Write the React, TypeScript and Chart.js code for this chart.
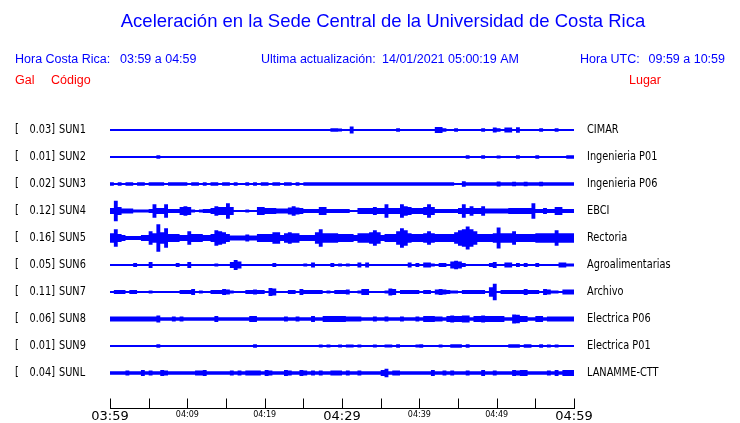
import React, { useEffect, useRef } from 'react';
import { Chart, registerables } from 'chart.js';

Chart.register(...registerables);

// ---------- text ----------
const TITLE = 'Aceleración en la Sede Central de la Universidad de Costa Rica';
const HEADER_CR = ['Hora Costa Rica:', '03:59 a 04:59'];
const HEADER_UPD = ['Ultima actualización:', '14/01/2021 05:00:19 AM'];
const HEADER_UTC = ['Hora UTC:', '09:59 a 10:59'];
const COL_HEADS = ['Gal', 'Código', 'Lugar'];

// ---------- stations ----------
const CODES = ['SUN1', 'SUN2', 'SUN3', 'SUN4', 'SUN5', 'SUN6', 'SUN7', 'SUN8', 'SUN9', 'SUNL'];
const PEAK_GAL = [0.03, 0.01, 0.02, 0.12, 0.16, 0.05, 0.11, 0.06, 0.01, 0.04];
const PLACES = ['CIMAR', 'Ingenieria P01', 'Ingenieria P06', 'EBCI', 'Rectoria', 'Agroalimentarias', 'Archivo', 'Electrica P06', 'Electrica P01', 'LANAMME-CTT'];

// ---------- time axis (minutes after 03:59) ----------
const BIN_MIN = 0.5;
const SPAN_MIN = 60;
const TICK_MIN = [0, 5, 10, 15, 20, 25, 30, 35, 40, 45, 50, 55, 60];
const LABEL_MIN = [0, 10, 20, 30, 40, 50, 60];
const LABEL_TEXT = ['03:59', '04:09', '04:19', '04:29', '04:39', '04:49', '04:59'];
const LABEL_MAJOR = [true, false, false, true, false, false, true];

// ---------- envelopes: half peak-to-peak acceleration per 30 s window, mGal ----------
const SUN1_MGAL = [
  0,0,0,0,0,0,0,0,0,0, 0,0,0,0,0,0,0,0,0,0,
  0,0,0,0,0,0,0,0,0,0, 0,0,0,0,0,0,0,0,0,0,
  0,0,0,0,0,0,0,0,0,0, 0,0,0,0,0,0,0,0,8,8,
  6,0,0,30,0,0,0,0,0,0, 0,0,0,0,0,10,0,0,0,0,
  0,0,0,0,0,25,25,10,0,0, 8,0,0,0,0,0,0,10,0,0,
  20,10,0,18,18,0,22,0,0,0, 0,0,10,0,0,0,10,0,0,0,
];
const SUN2_MGAL = [
  0,0,0,0,0,0,0,0,0,0, 0,0,0,8,0,0,0,0,0,0,
  0,0,0,0,0,0,0,0,0,0, 0,0,0,0,0,0,0,0,0,0,
  0,0,0,0,0,0,0,0,0,0, 0,0,0,0,0,0,0,0,0,0,
  0,0,0,0,0,0,0,0,0,0, 0,0,0,0,0,0,0,0,0,0,
  0,0,0,0,0,0,0,0,0,0, 0,0,0,10,0,0,0,8,0,0,
  0,6,0,0,0,0,8,0,0,0, 0,8,0,0,0,0,0,0,0,10,
];
const SUN3_MGAL = [
  10,10,0,10,0,10,10,0,10,10, 0,10,10,10,10,0,10,10,10,10,
  10,0,10,10,0,10,0,10,10,0, 10,10,0,10,0,0,10,0,10,0,
  10,10,0,10,10,0,10,10,0,10, 0,10,10,10,10,10,10,10,10,10,
  10,10,10,10,10,10,10,10,10,10, 10,10,10,10,10,10,10,10,10,10,
  10,10,10,10,10,10,10,10,10,10, 0,0,22,10,10,10,10,10,10,10,
  10,18,10,10,10,16,10,10,16,10, 10,10,16,10,10,10,10,10,10,10,
];
const SUN4_MGAL = [
  36,24,115,36,18,18,18,6,6,6, 6,12,72,24,24,72,12,12,12,36,
  48,36,6,0,6,12,12,24,48,36, 36,84,36,0,0,0,6,0,0,36,
  36,24,24,24,18,18,18,30,48,30, 24,12,12,12,12,36,36,12,12,12,
  12,12,12,0,0,24,24,24,24,36, 24,24,72,24,24,24,72,48,36,24,
  24,24,36,72,36,12,12,12,12,12, 12,24,72,24,48,24,24,48,18,18,
  18,18,18,18,24,24,24,24,24,24, 84,12,12,24,12,12,36,36,12,12,
];
const SUN5_MGAL = [
  48,48,96,36,24,12,12,12,12,24, 24,72,48,160,60,108,36,36,36,24,
  24,72,36,36,36,24,24,36,84,72, 60,36,18,18,18,18,30,18,18,36,
  36,36,36,60,60,24,48,60,48,48, 24,24,24,24,60,96,48,48,48,48,
  36,36,36,36,24,48,48,48,60,84, 60,24,36,36,36,72,108,84,48,36,
  36,36,48,72,48,36,36,36,36,36, 60,84,96,132,96,72,36,36,36,36,
  48,120,48,48,48,72,36,36,36,36, 36,48,48,48,48,48,84,48,48,48,
];
const SUN6_MGAL = [
  0,0,0,0,0,0,0,12,0,0, 0,24,0,0,0,0,0,0,12,0,
  0,24,0,0,0,0,0,0,6,0, 0,0,24,50,30,0,0,0,0,0,
  0,0,0,12,0,0,0,0,0,0, 0,6,0,18,0,0,0,0,12,0,
  6,0,6,0,0,18,0,18,0,0, 0,0,0,0,0,0,0,0,18,0,
  12,0,18,18,6,0,12,12,0,30, 40,30,12,0,0,0,0,0,0,12,
  24,0,0,18,18,0,12,0,12,0, 0,12,0,0,0,0,0,18,18,6,
];
const SUN7_MGAL = [
  0,0,12,12,12,0,12,12,0,0, 0,6,0,0,0,0,0,0,0,12,
  12,12,24,0,6,0,0,12,12,12, 24,18,6,0,0,0,12,12,18,12,
  12,0,36,30,0,0,0,12,12,0, 24,12,12,12,12,12,0,6,0,12,
  12,12,18,0,0,6,24,24,0,0, 0,0,6,30,24,0,12,12,12,12,
  12,0,12,12,0,18,24,18,12,6, 6,0,12,12,12,12,12,12,0,48,
  90,0,12,12,12,12,12,12,24,12, 12,12,0,24,18,6,6,0,18,18,
];
const SUN8_MGAL = [
  18,18,18,18,18,18,18,18,18,18, 18,18,18,30,10,10,10,18,10,18,
  10,10,10,10,10,10,10,10,24,10, 10,10,10,10,10,10,10,24,24,10,
  10,10,10,10,10,10,18,10,10,18, 10,10,10,24,10,10,24,24,24,24,
  24,24,18,18,18,18,10,10,10,18, 10,10,18,10,10,10,18,10,10,10,
  18,10,24,24,24,18,18,10,24,30, 24,24,30,30,10,24,24,30,24,24,
  24,24,24,10,10,45,40,24,24,10, 10,24,24,10,18,18,18,18,18,18,
];
const SUN9_MGAL = [
  0,0,0,0,0,0,0,0,0,0, 0,0,0,10,0,0,0,0,0,0,
  0,0,0,0,0,0,0,0,0,0, 0,0,0,0,0,0,0,0,8,0,
  0,0,0,0,0,0,0,0,0,0, 0,0,0,0,0,6,0,6,0,0,
  6,0,6,6,0,6,0,0,0,6, 0,0,6,6,0,8,0,0,0,0,
  6,8,0,0,0,0,6,0,0,8, 8,8,0,8,0,0,0,0,0,0,
  0,0,0,0,10,10,8,0,8,8, 0,0,8,0,6,0,6,0,0,0,
];
const SUNL_MGAL = [
  18,10,10,10,10,18,10,10,10,24, 10,18,10,10,24,18,10,10,10,10,
  10,10,10,18,18,24,10,10,10,10, 10,10,18,10,18,10,18,18,18,18,
  10,24,18,10,10,10,24,18,10,10, 24,18,10,18,10,18,10,10,18,18,
  18,10,18,10,10,18,10,10,10,10, 10,24,40,10,18,18,10,10,10,10,
  10,10,10,10,24,10,10,18,10,18, 10,10,10,18,10,10,10,24,10,10,
  18,10,10,10,10,24,18,24,24,10, 10,10,10,10,18,10,24,10,24,24,
];
const ENVELOPES = [SUN1_MGAL, SUN2_MGAL, SUN3_MGAL, SUN4_MGAL, SUN5_MGAL, SUN6_MGAL, SUN7_MGAL, SUN8_MGAL, SUN9_MGAL, SUNL_MGAL];

// ---------- layout / style ----------
const W = 740;
const H = 423;
const ROW_GAP = 0.3375; // gal between trace baselines
const LINE_HALF = 0.0125; // half thickness of the trace line (gal)
const BLUE = '#0000ff';
const RED = '#ff0000';
const SANS = "'Liberation Sans', Arial, Helvetica, sans-serif";
const DEJAVU = "'DejaVu Sans', sans-serif";

function drawSqueezed(ctx: CanvasRenderingContext2D, text: string, x: number, y: number, align: 'left' | 'right', sx: number) {
  ctx.save();
  ctx.translate(x, y);
  ctx.scale(sx, 1);
  ctx.textAlign = align;
  ctx.fillText(text, 0, 0);
  ctx.restore();
}

const annotate = {
  id: 'seismoAnnotate',
  afterDraw(chart: any) {
    const ctx: CanvasRenderingContext2D = chart.ctx;
    const xs = chart.scales.x;
    const ys = chart.scales.y;
    ctx.save();
    ctx.textBaseline = 'middle';

    // title
    ctx.fillStyle = BLUE;
    ctx.font = `18.5px ${SANS}`;
    ctx.textAlign = 'center';
    ctx.fillText(TITLE, 383, 22);

    // header row
    ctx.font = `12.5px ${SANS}`;
    ctx.textAlign = 'left';
    ctx.fillText(HEADER_CR[0], 15, 60);
    ctx.fillText(HEADER_CR[1], 120, 60);
    ctx.fillText(HEADER_UPD[0], 261, 60);
    ctx.fillText(HEADER_UPD[1], 382, 60);
    ctx.fillText(HEADER_UTC[0], 580, 60);
    ctx.textAlign = 'right';
    ctx.fillText(HEADER_UTC[1], 725, 60);

    // column heads
    ctx.fillStyle = RED;
    ctx.textAlign = 'left';
    ctx.fillText(COL_HEADS[0], 15, 81);
    ctx.fillText(COL_HEADS[1], 51, 81);
    ctx.fillText(COL_HEADS[2], 629, 81);

    // station labels
    ctx.fillStyle = '#000';
    ctx.font = `11.5px ${DEJAVU}`;
    CODES.forEach((code, i) => {
      const y = ys.getPixelForValue(-i * ROW_GAP) + 0.5;
      drawSqueezed(ctx, '[', 15, y, 'left', 0.85);
      drawSqueezed(ctx, PEAK_GAL[i].toFixed(2) + ']', 55, y, 'right', 0.85);
      drawSqueezed(ctx, code, 59, y, 'left', 0.85);
      drawSqueezed(ctx, PLACES[i], 587, y, 'left', 0.85);
    });

    // time axis
    const yb = Math.round(chart.chartArea.bottom) + 0.5;
    ctx.strokeStyle = '#000';
    ctx.lineWidth = 1;
    ctx.beginPath();
    ctx.moveTo(xs.getPixelForValue(0), yb);
    ctx.lineTo(xs.getPixelForValue(SPAN_MIN) + 1, yb);
    TICK_MIN.forEach((m) => {
      const x = Math.round(xs.getPixelForValue(m)) + 0.5;
      ctx.moveTo(x, yb);
      ctx.lineTo(x, yb - 10);
    });
    ctx.stroke();

    ctx.textAlign = 'center';
    ctx.textBaseline = 'top';
    LABEL_MIN.forEach((m, j) => {
      const x = xs.getPixelForValue(m);
      ctx.font = LABEL_MAJOR[j] ? `13px ${DEJAVU}` : `8px ${DEJAVU}`;
      ctx.fillText(LABEL_TEXT[j], x, yb + 2);
    });
    ctx.restore();
  },
};

export default function App() {
  const ref = useRef<HTMLCanvasElement>(null);

  useEffect(() => {
    if (!ref.current) return;
    const datasets: any[] = [];
    ENVELOPES.forEach((env, i) => {
      const base = -i * ROW_GAP;
      const upper = env.map((v, k) => ({ x: k * BIN_MIN, y: base + v / 1000 + LINE_HALF }));
      const lower = env.map((v, k) => ({ x: k * BIN_MIN, y: base - v / 1000 - LINE_HALF }));
      // close the last 30 s window at the end of the hour
      upper.push({ x: SPAN_MIN, y: upper[upper.length - 1].y });
      lower.push({ x: SPAN_MIN, y: lower[lower.length - 1].y });
      const common = {
        stepped: 'after',
        pointRadius: 0,
        borderWidth: 0,
        borderColor: 'rgba(0,0,0,0)',
        backgroundColor: BLUE,
      };
      datasets.push({ ...common, label: CODES[i] + ' +', data: upper, fill: false });
      datasets.push({ ...common, label: CODES[i] + ' -', data: lower, fill: '-1' });
    });

    const chart = new Chart(ref.current, {
      type: 'line',
      data: { datasets },
      options: {
        animation: false,
        responsive: false,
        devicePixelRatio: 1,
        layout: { padding: { left: 110, right: W - 574, top: 103, bottom: H - 408 } },
        plugins: { legend: { display: false }, tooltip: { enabled: false }, title: { display: false } },
        scales: {
          x: { type: 'linear', min: 0, max: SPAN_MIN, display: false },
          y: { type: 'linear', min: -9 * ROW_GAP - 0.4375, max: ROW_GAP, display: false },
        },
      } as any,
      plugins: [annotate],
    });
    return () => chart.destroy();
  }, []);

  return (
    <div style={{ position: 'absolute', left: 0, top: 0, width: W, height: H, background: '#fff' }}>
      <canvas ref={ref} width={W} height={H} style={{ display: 'block', width: W, height: H }} />
    </div>
  );
}
